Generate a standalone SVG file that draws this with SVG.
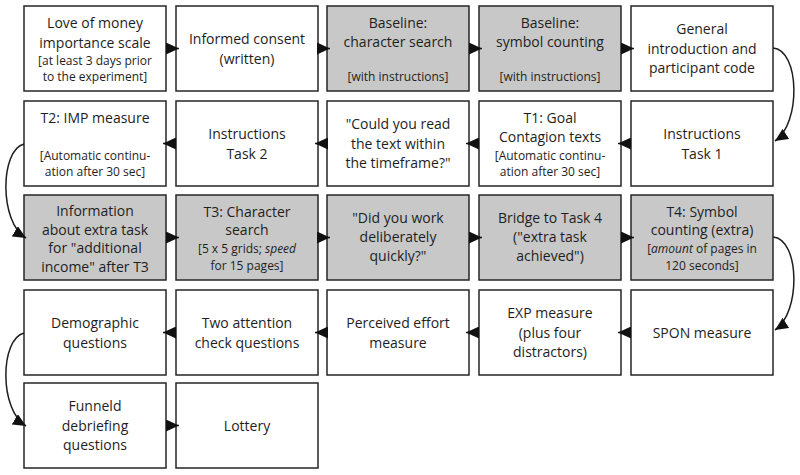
<svg xmlns="http://www.w3.org/2000/svg" width="800" height="475" viewBox="0 0 800 475">
<style>
.b{fill:#fff;stroke:#262626;stroke-width:1.5}
.g{fill:#c8c8c8;stroke:#262626;stroke-width:1.5}
text{font-family:"Open Sans","Noto Sans","Liberation Sans",sans-serif;fill:#1e1e1e;text-anchor:middle}
.m{font-size:14px}
.s{font-size:12px}
.i{font-style:italic}
.c{fill:none;stroke:#1e1e1e;stroke-width:1.5}
</style>
<defs>
<marker id="ah" markerUnits="userSpaceOnUse" markerWidth="14" markerHeight="12" refX="13" refY="6" orient="auto">
<path d="M0,0 L13,6 L0,12 z" fill="#111"/>
</marker>
</defs>
<rect width="800" height="475" fill="#fff"/>

<!-- Row 1 -->
<g id="n1"><rect class="b" x="24" y="6" width="142" height="85"/>
<text x="95" y="28" class="m">Love of money</text>
<text x="95" y="47.5" class="m">importance scale</text>
<text x="95" y="65" class="s">[at least 3 days prior</text>
<text x="95" y="81" class="s">to the experiment]</text></g>
<g id="n2"><rect class="b" x="176" y="6" width="142" height="85"/>
<text x="247" y="44" class="m">Informed consent</text>
<text x="247" y="63.5" class="m">(written)</text></g>
<g id="n3"><rect class="g" x="327" y="6" width="142" height="85"/>
<text x="398" y="28" class="m">Baseline:</text>
<text x="398" y="47" class="m">character search</text>
<text x="398" y="81" class="s">[with instructions]</text></g>
<g id="n4"><rect class="g" x="479" y="6" width="142" height="85"/>
<text x="550" y="28" class="m">Baseline:</text>
<text x="550" y="47" class="m">symbol counting</text>
<text x="550" y="81" class="s">[with instructions]</text></g>
<g id="n5"><rect class="b" x="631" y="6" width="142" height="85"/>
<text x="702" y="34" class="m">General</text>
<text x="702" y="53.5" class="m">introduction and</text>
<text x="702" y="73" class="m">participant code</text></g>

<!-- Row 2 -->
<g id="n6"><rect class="b" x="24" y="101" width="142" height="85"/>
<text x="95" y="123" class="m">T2: IMP measure</text>
<text x="95" y="160" class="s">[Automatic continu-</text>
<text x="95" y="176" class="s">ation after 30 sec]</text></g>
<g id="n7"><rect class="b" x="176" y="101" width="142" height="85"/>
<text x="247" y="139" class="m">Instructions</text>
<text x="247" y="158.5" class="m">Task 2</text></g>
<g id="n8"><rect class="b" x="327" y="101" width="142" height="85"/>
<text x="398" y="129" class="m">"Could you read</text>
<text x="398" y="148.5" class="m">the text within</text>
<text x="398" y="168" class="m">the timeframe?"</text></g>
<g id="n9"><rect class="b" x="479" y="101" width="142" height="85"/>
<text x="550" y="123" class="m">T1: Goal</text>
<text x="550" y="142" class="m">Contagion texts</text>
<text x="550" y="160" class="s">[Automatic continu-</text>
<text x="550" y="176" class="s">ation after 30 sec]</text></g>
<g id="n10"><rect class="b" x="631" y="101" width="142" height="85"/>
<text x="702" y="139" class="m">Instructions</text>
<text x="702" y="158.5" class="m">Task 1</text></g>

<!-- Row 3 -->
<g id="n11"><rect class="g" x="24" y="195" width="142" height="85"/>
<text x="95" y="216" class="m">Information</text>
<text x="95" y="234.5" class="m">about extra task</text>
<text x="95" y="253" class="m">for "additional</text>
<text x="95" y="271.5" class="m">income" after T3</text></g>
<g id="n12"><rect class="g" x="176" y="195" width="142" height="85"/>
<text x="247" y="216.5" class="m">T3: Character</text>
<text x="247" y="235" class="m">search</text>
<text x="247" y="253" class="s">[5 x 5 grids; <tspan class="i">speed</tspan></text>
<text x="247" y="270" class="s">for 15 pages]</text></g>
<g id="n13"><rect class="g" x="327" y="195" width="142" height="85"/>
<text x="398" y="223" class="m">"Did you work</text>
<text x="398" y="242" class="m">deliberately</text>
<text x="398" y="261" class="m">quickly?"</text></g>
<g id="n14"><rect class="g" x="479" y="195" width="142" height="85"/>
<text x="550" y="223" class="m">Bridge to Task 4</text>
<text x="550" y="242" class="m">("extra task</text>
<text x="550" y="261" class="m">achieved")</text></g>
<g id="n15"><rect class="g" x="631" y="195" width="142" height="85"/>
<text x="702" y="216.5" class="m">T4: Symbol</text>
<text x="702" y="235" class="m">counting (extra)</text>
<text x="702" y="253" class="s">[<tspan class="i">amount</tspan> of pages in</text>
<text x="702" y="270" class="s">120 seconds]</text></g>

<!-- Row 4 -->
<g id="n16"><rect class="b" x="24" y="290" width="142" height="85"/>
<text x="95" y="328" class="m">Demographic</text>
<text x="95" y="347.5" class="m">questions</text></g>
<g id="n17"><rect class="b" x="176" y="290" width="142" height="85"/>
<text x="247" y="328" class="m">Two attention</text>
<text x="247" y="347.5" class="m">check questions</text></g>
<g id="n18"><rect class="b" x="327" y="290" width="142" height="85"/>
<text x="398" y="328" class="m">Perceived effort</text>
<text x="398" y="347.5" class="m">measure</text></g>
<g id="n19"><rect class="b" x="479" y="290" width="142" height="85"/>
<text x="550" y="318" class="m">EXP measure</text>
<text x="550" y="337.5" class="m">(plus four</text>
<text x="550" y="357" class="m">distractors)</text></g>
<g id="n20"><rect class="b" x="631" y="290" width="142" height="85"/>
<text x="702" y="337.5" class="m">SPON measure</text></g>

<!-- Row 5 -->
<g id="n21"><rect class="b" x="24" y="383" width="142" height="85"/>
<text x="95" y="411" class="m">Funneld</text>
<text x="95" y="430.5" class="m">debriefing</text>
<text x="95" y="450" class="m">questions</text></g>
<g id="n22"><rect class="b" x="176" y="383" width="142" height="85"/>
<text x="247" y="430.5" class="m">Lottery</text></g>

<!-- Connectors -->
<g id="connectors" class="c">
<path class="c" marker-end="url(#ah)" d="M166,48.5 H179"/>
<path class="c" marker-end="url(#ah)" d="M318,48.5 H330"/>
<path class="c" marker-end="url(#ah)" d="M469,48.5 H482"/>
<path class="c" marker-end="url(#ah)" d="M621,48.5 H634"/>
<path class="c" marker-end="url(#ah)" d="M773,48 C800,50 801,124 775,141"/>
<path class="c" marker-end="url(#ah)" d="M631,143.5 H618"/>
<path class="c" marker-end="url(#ah)" d="M479,143.5 H466"/>
<path class="c" marker-end="url(#ah)" d="M327,143.5 H315"/>
<path class="c" marker-end="url(#ah)" d="M176,143.5 H163"/>
<path class="c" marker-end="url(#ah)" d="M24,144 C0,150 -1,222 26,238"/>
<path class="c" marker-end="url(#ah)" d="M166,237.5 H179"/>
<path class="c" marker-end="url(#ah)" d="M318,237.5 H330"/>
<path class="c" marker-end="url(#ah)" d="M469,237.5 H482"/>
<path class="c" marker-end="url(#ah)" d="M621,237.5 H634"/>
<path class="c" marker-end="url(#ah)" d="M773,237 C800,239 801,313 775,330"/>
<path class="c" marker-end="url(#ah)" d="M631,332.5 H618"/>
<path class="c" marker-end="url(#ah)" d="M479,332.5 H466"/>
<path class="c" marker-end="url(#ah)" d="M327,332.5 H315"/>
<path class="c" marker-end="url(#ah)" d="M176,332.5 H163"/>
<path class="c" marker-end="url(#ah)" d="M24,333 C0,339 -1,410 26,426"/>
<path class="c" marker-end="url(#ah)" d="M166,425.5 H179"/>
</g>
</svg>
